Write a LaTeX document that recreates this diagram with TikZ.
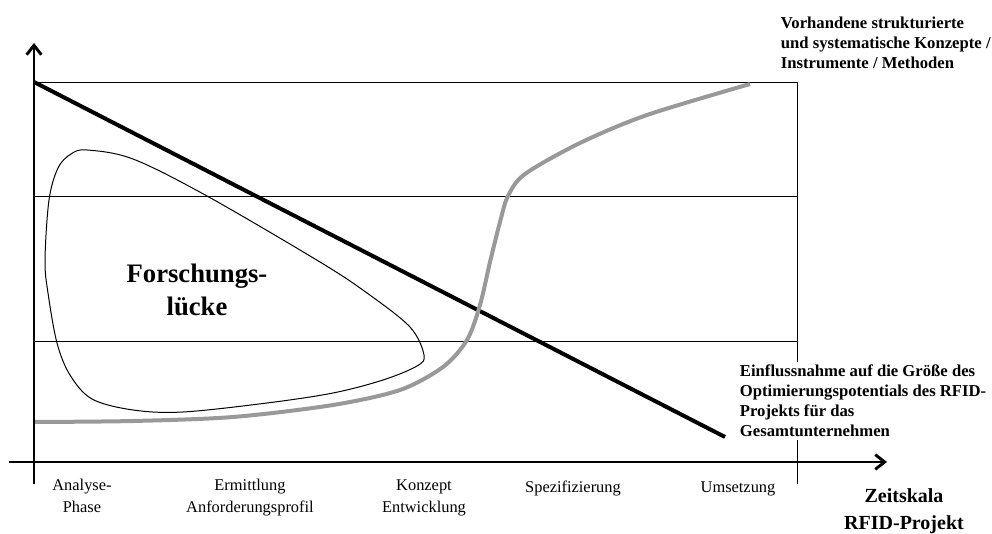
\documentclass[tikz,border=0pt]{standalone}
\usepackage{fontspec}
\setmainfont{Liberation Serif}
\usetikzlibrary{arrows.meta}
\definecolor{curvegray}{gray}{0.6}

\begin{document}
\begin{tikzpicture}[x=0.75pt,y=-0.75pt,
  axis/.style={line width=2.2pt,-{Straight Barb[length=7pt,width=11pt]}},
  grid/.style={line width=0.6pt},
  phase/.style={font=\fontsize{12.3}{16.5}\selectfont,align=center,anchor=base},
  curvelabel/.style={font=\bfseries\fontsize{12.5}{15}\selectfont,align=left,anchor=west,inner sep=2pt}]
  \useasboundingbox (0,0) rectangle (992,534);

  % Define coordinates for the axes
  \coordinate (Ybot) at (34,484);
  \coordinate (Ytop) at (34,43);
  \coordinate (Xl) at (9,462);
  \coordinate (Xr) at (887,462);
  \coordinate (Start) at (34,82);
  \coordinate (End) at (725,437);

  % Draw grid lines
  \foreach \y in {82,196,341}
    \draw[grid] (34,\y) -- (797,\y);
  \draw[grid] (797,82) -- (797,484);

  % Draw research gap
  \draw[line width=0.75pt] plot[smooth cycle,tension=0.55] coordinates {
    (87,150) (133,159) (207,196) (320,262) (367,293) (410,327) (424,355)
    (417,366) (383,380) (333,393) (267,403) (183,412) (133,410) (92,399)
    (70,375) (57,343) (48,293) (45,260) (49,200) (58,168) (71,154)};

  % Draw curves
  \draw[line width=3pt] (Start) -- (End);
  \draw[curvegray,line width=3pt] plot[smooth,tension=0.5] coordinates {
    (34,422) (133,421) (233,417) (333,405) (400,390) (443,367) (467,340)
    (480,305) (490,262) (500,222) (508,196) (525,174) (580,143) (647,115) (750,84)};

  % Draw axes
  \draw[axis] (Ybot) -- (Ytop);
  \draw[axis] (Xl) -- (Xr);

  % Define nodes for all labels
  \node[font=\bfseries\fontsize{20}{25}\selectfont,align=center] (Luecke) at (197,290) {Forschungs-\\lücke};
  \node[curvelabel] (Vorh) at (778,43) {Vorhandene strukturierte\\und systematische Konzepte /\\Instrumente / Methoden};
  \node[curvelabel,fill=white] (Einfl) at (737,401) {Einflussnahme auf die Größe des\\Optimierungspotentials des RFID-\\Projekts für das\\Gesamtunternehmen};
  \node[font=\bfseries\fontsize{15}{20}\selectfont,align=center] (Zeit) at (904,511) {Zeitskala\\RFID-Projekt};
  \node[phase] (Analyse) at (82,512) {Analyse-\\Phase};
  \node[phase] (Ermittl) at (250,512) {Ermittlung\\Anforderungsprofil};
  \node[phase] (Konzept) at (424,512) {Konzept\\Entwicklung};
  \node[phase] (Spezif) at (573,492) {Spezifizierung};
  \node[phase] (Umsetz) at (738,492) {Umsetzung};

\end{tikzpicture}
\end{document}
